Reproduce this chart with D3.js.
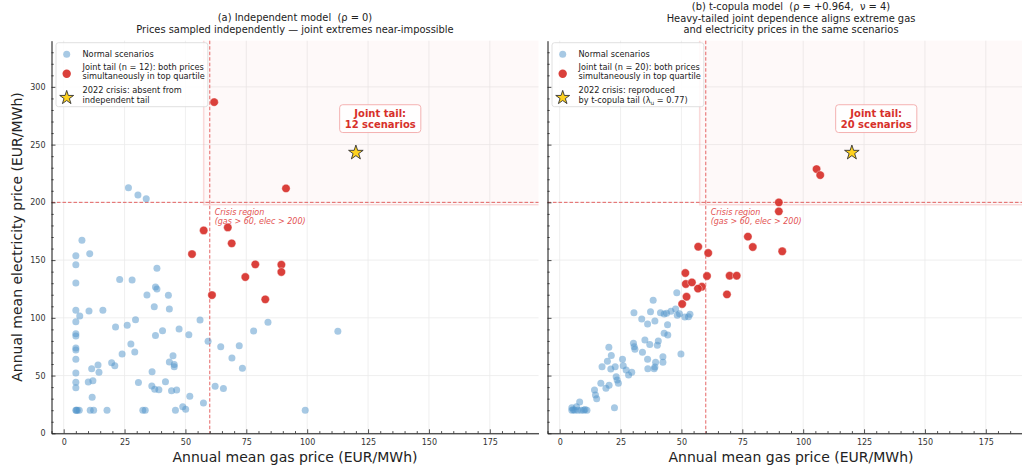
<!DOCTYPE html>
<html>
<head>
<meta charset="utf-8">
<script src="https://cdn.jsdelivr.net/npm/d3@7"></script>
<style>
body { margin: 0; background: #fff; }
svg text { font-family: "DejaVu Sans", sans-serif; }
</style>
</head>
<body>
<div id="chart"></div>
<script>
// Figure geometry
const W = 1022, H = 465;
const plotTop = 40.7, plotBottom = 433.3, plotW = 487;
const panelLeft = [51.5, 547.5];

// Axis settings
const xDomain = [-5, 195], yDomain = [0, 340];
const xTicks = [0, 25, 50, 75, 100, 125, 150, 175];
const yTicks = [0, 50, 100, 150, 200, 250, 300];
const gasThreshold = 60, elecThreshold = 200;
const crisisPoint = [120, 243];

// (a) independent model: [gas, elec]
const indepNormal = [
  [26.6,212.7],[30.5,206.3],[33.9,203.2],[7.5,167.1],[5,153.8],[10.7,155.6],[5,146],[5,130.2],
  [23,133.3],[28.1,132.8],[38.3,142.9],[5,106.5],[6.6,101.6],[10.4,105.9],[16.1,106.5],[5,96.7],
  [5,86.3],[5,84.3],[21.3,92.1],[26.1,93.5],[29.5,98.4],[34.2,119.8],[37.7,126.7],[38.3,125],
  [37.2,109.7],[43,119.5],[43.4,107.6],[37.7,84.6],[40.6,88.9],[47.4,90.3],[51.4,85.4],[56,98.1],
  [27.6,77.3],[29.2,70.4],[59.3,79.7],[5,73.9],[5,72.2],[5,64.1],[24,68.7],[19.7,61.2],
  [21,58.6],[14.1,59.2],[14.5,52.8],[11.5,56],[5,52.2],[5,44.2],[5,39.5],[10.1,44.4],
  [12,45.6],[11.7,31.2],[36.3,53.4],[44.9,67.2],[43.4,61.8],[45.4,59.5],[45.4,57.7],[41.8,44.7],
  [36.2,41],[37.4,38.1],[39.1,37.8],[44.3,36.9],[46.4,37.5],[30.7,43.9],[64.5,75],[69.1,65.2],
  [72.1,75.9],[73.4,56.3],[62.2,40.7],[65.6,38.7],[51.8,32],[57.4,26.3],[48.9,23.1],[50.1,20.8],
  [45.9,20],[32.5,20],[33.5,20],[17.8,20],[12.3,20],[10.9,20],[5,20],[5.6,20],
  [6.4,20],[5.2,20],[112.6,88.3],[99.2,20],[83.9,96.1],[78,88.6]
];
const indepTail = [
  [61.8,286.8],[91.3,212.1],[57.5,175.7],[67.4,178.3],[69,164.5],[52.7,155.2],
  [78.7,146.3],[89.4,146],[89.4,139.7],[74.6,135.3],[60.9,119.7],[82.8,116]
];

// (b) t-copula model: [gas, elec]
const tcopNormal = [
  [48.1,121.7],[38.4,115.2],[30.5,104.5],[37.3,105.3],[41.4,104.5],[42.9,103.3],[43.9,103.9],[45.7,105.6],
  [47.6,107.6],[49.2,103.6],[48.3,102.2],[51.4,100.7],[52.9,101],[53.5,103],[33.7,99],[36.1,94.7],
  [39.1,97.3],[44.3,94.1],[42.9,86.6],[44.4,85.1],[35,80.8],[30.3,77.9],[30.6,75],[30.9,72.7],
  [34,70.1],[37,77],[40.5,80],[40.1,76.2],[49.8,68.7],[42.4,66.4],[42.4,61.5],[36.1,64.1],
  [39.4,61.5],[39.1,57.4],[38.8,56],[36.2,56],[20.2,74.5],[21.2,67.3],[19.6,62.3],[25.8,64.1],
  [17.4,57.7],[21,55.7],[22.8,57.7],[26.1,58.6],[27.3,54.8],[28.3,50.5],[29.6,52.8],[23.2,49],
  [23.6,46.2],[24.1,43.3],[16.9,43.3],[20.3,41.6],[19,39],[14.3,37.5],[14.7,33.2],[15.2,30],
  [8.2,27.1],[5,22.2],[5,20],[6.9,23],[7.5,20],[8.8,20],[9.9,20],[11.2,20],
  [22.5,22.2],[5.6,20.4],[6.2,20],[10.4,20.6]
];
const tcopTail = [
  [105.5,228.8],[107,223.6],[90,200],[90,192.2],[77.3,170.3],[79.3,161.3],[91.4,157.6],
  [56.9,161.6],[61,156.1],[51.6,138.8],[60.5,136.2],[69.8,136.5],[72.7,136.5],[51.8,129.3],
  [54.3,130.7],[58.4,126.9],[56.8,125.3],[68.7,120.3],[52.1,118.3],[50.3,112]
];

// Texts
const titlesA = ["(a) Independent model  (\u03c1 = 0)",
  "Prices sampled independently \u2014 joint extremes near-impossible"];
const titlesB = ["(b) t-copula model  (\u03c1 = +0.964,  \u03bd = 4)",
  "Heavy-tailed joint dependence aligns extreme gas",
  "and electricity prices in the same scenarios"];
const legendA = [
  ["Normal scenarios"],
  ["Joint tail (n = 12): both prices", "simultaneously in top quartile"],
  ["2022 crisis: absent from", "independent tail"]
];
const legendB = [
  ["Normal scenarios"],
  ["Joint tail (n = 20): both prices", "simultaneously in top quartile"],
  ["2022 crisis: reproduced", "by t-copula tail (\u03bb|u| = 0.77)"]
];
const tailLabelA = ["Joint tail:", "12 scenarios"];
const tailLabelB = ["Joint tail:", "20 scenarios"];

const blue = "#4f93c9", red = "#d7302a", dashRed = "#e35353";

const svg = d3.select("#chart").append("svg")
  .attr("width", W).attr("height", H);

function drawPanel(i, normal, tail, titles, legendRows, tailLabel) {
  const h = plotBottom - plotTop;
  const g = svg.append("g")
    .attr("transform", `translate(${panelLeft[i]},${plotTop})`);

  const x = d3.scaleLinear().domain(xDomain).range([0, plotW]);
  const y = d3.scaleLinear().domain(yDomain).range([h, 0]);

  // Grid
  g.selectAll(".gx").data(xTicks).join("line")
    .attr("x1", d => x(d)).attr("x2", d => x(d))
    .attr("y1", 0).attr("y2", h)
    .attr("stroke", "#ebebeb").attr("stroke-width", 0.8);
  g.selectAll(".gy").data(yTicks).join("line")
    .attr("x1", 0).attr("x2", plotW)
    .attr("y1", d => y(d)).attr("y2", d => y(d))
    .attr("stroke", "#ebebeb").attr("stroke-width", 0.8);

  // Crisis region shading (edge only on left and bottom)
  g.append("rect")
    .attr("x", x(57.5)).attr("y", 0)
    .attr("width", plotW - x(57.5)).attr("height", y(198))
    .attr("fill", "#e8474c").attr("fill-opacity", 0.035);
  g.append("path")
    .attr("d", `M${x(57.5)},0V${y(198)}H${plotW}`)
    .attr("fill", "none")
    .attr("stroke", "#f08a8a").attr("stroke-opacity", 0.3).attr("stroke-width", 1.5);

  // Threshold lines
  g.append("line")
    .attr("x1", x(gasThreshold)).attr("x2", x(gasThreshold))
    .attr("y1", 0).attr("y2", h)
    .attr("stroke", dashRed).attr("stroke-width", 0.9).attr("stroke-dasharray", "3.5,2");
  g.append("line")
    .attr("x1", 0).attr("x2", plotW)
    .attr("y1", y(elecThreshold)).attr("y2", y(elecThreshold))
    .attr("stroke", dashRed).attr("stroke-width", 0.9).attr("stroke-dasharray", "3.5,2");

  g.append("text")
    .attr("x", x(62)).attr("y", y(elecThreshold) + 12.5)
    .attr("font-size", 8).attr("font-style", "italic").attr("fill", dashRed)
    .selectAll("tspan").data(["Crisis region", "(gas > 60, elec > 200)"]).join("tspan")
    .attr("x", x(62)).attr("dy", (d, k) => k === 0 ? 0 : 9.5)
    .text(d => d);

  // Points
  g.selectAll(".normal").data(normal).join("circle")
    .attr("cx", d => x(d[0])).attr("cy", d => y(d[1]))
    .attr("r", 3.5).attr("fill", blue).attr("fill-opacity", 0.5);
  g.selectAll(".tail").data(tail).join("circle")
    .attr("cx", d => x(d[0])).attr("cy", d => y(d[1]))
    .attr("r", 4.2).attr("fill", red).attr("fill-opacity", 0.92)
    .attr("stroke", "#fff").attr("stroke-width", 0.4);

  // 2022 crisis star
  g.append("path")
    .attr("d", d3.symbol(d3.symbolStar).size(66)())
    .attr("transform", `translate(${x(crisisPoint[0])},${y(crisisPoint[1])})`)
    .attr("fill", "#ffd21f").attr("stroke", "#333").attr("stroke-width", 0.9);

  // Joint tail label
  const lab = g.append("g")
    .attr("transform", `translate(${x(130)},${y(272)})`);
  const labBox = lab.append("rect");
  const labText = lab.append("text")
    .attr("text-anchor", "middle").attr("font-size", 10)
    .attr("font-weight", "bold").attr("fill", red);
  labText.selectAll("tspan").data(tailLabel).join("tspan")
    .attr("x", 0).attr("y", (d, k) => -2.5 + k * 10.8)
    .text(d => d);
  const bb = labText.node().getBBox();
  labBox.attr("x", bb.x - 5).attr("y", bb.y - 3)
    .attr("width", bb.width + 10).attr("height", bb.height + 6)
    .attr("rx", 3).attr("fill", "#fff").attr("fill-opacity", 0.85)
    .attr("stroke", "#f3a9a9").attr("stroke-width", 0.9);

  // Axes (ticks point inward)
  const xAxis = g.append("g").attr("transform", `translate(0,${h})`)
    .call(d3.axisBottom(x).tickValues(xTicks).tickSize(-4).tickPadding(6).tickSizeOuter(0));
  g.append("g").attr("transform", `translate(0,${h})`)
    .call(d3.axisBottom(x).tickValues(d3.range(-5, 195, 5).filter(v => v % 25 !== 0))
      .tickSize(-2.2).tickFormat("").tickSizeOuter(0))
    .select(".domain").remove();
  const yAxis = g.append("g")
    .call(d3.axisLeft(y).tickValues(yTicks).tickSize(-4).tickPadding(6).tickSizeOuter(0)
      .tickFormat(i === 0 ? d3.format("d") : ""));
  g.append("g")
    .call(d3.axisLeft(y).tickValues(d3.range(10, 340, 10).filter(v => v % 50 !== 0))
      .tickSize(-2.2).tickFormat("").tickSizeOuter(0))
    .select(".domain").remove();
  g.selectAll(".tick line").attr("stroke", "#222").attr("stroke-width", 0.8);
  [xAxis, yAxis].forEach(a => {
    a.select(".domain").attr("stroke", "#111").attr("stroke-width", 1);
    a.selectAll("text").attr("font-size", 8).attr("fill", "#333")
      .attr("font-family", "DejaVu Sans, sans-serif");
  });

  // Title (keep the double spaces)
  const cx = plotW / 2;
  const tBase = titles.length === 2 ? -19.7 : -30.7;
  g.append("text").attr("text-anchor", "middle").attr("font-size", 9.9).attr("fill", "#222")
    .style("white-space", "pre")
    .selectAll("tspan").data(titles).join("tspan")
    .attr("x", cx).attr("y", (d, k) => tBase + k * 11.5)
    .text(d => d);

  // X label
  g.append("text").attr("x", cx).attr("y", h + 28.5)
    .attr("text-anchor", "middle").attr("font-size", 14).attr("fill", "#222")
    .text("Annual mean gas price (EUR/MWh)");

  // Legend
  const leg = g.append("g").attr("transform", "translate(4.5,2)");
  const legBox = leg.append("rect");
  const markerY = [11.6, 31, 55];
  const textY = [[14.6], [27, 36], [50.8, 60.1]];
  legendRows.forEach((rows, k) => {
    if (k === 0) {
      leg.append("circle").attr("cx", 10.7).attr("cy", markerY[k]).attr("r", 3.5)
        .attr("fill", blue).attr("fill-opacity", 0.5);
    } else if (k === 1) {
      leg.append("circle").attr("cx", 10.7).attr("cy", markerY[k]).attr("r", 4.2)
        .attr("fill", red).attr("fill-opacity", 0.92);
    } else {
      leg.append("path").attr("d", d3.symbol(d3.symbolStar).size(60)())
        .attr("transform", `translate(10.7,${markerY[k]})`)
        .attr("fill", "#ffd21f").attr("stroke", "#333").attr("stroke-width", 0.9);
    }
    rows.forEach((r, j) => {
      const t = leg.append("text").attr("x", 26.5).attr("y", textY[k][j])
        .attr("font-size", 8.2).attr("fill", "#222");
      const parts = r.split("|");
      if (parts.length === 1) {
        t.text(r);
      } else {
        t.append("tspan").text(parts[0]);
        t.append("tspan").attr("font-size", 5.8).attr("dy", 2).text(parts[1]);
        t.append("tspan").attr("dy", -2).text(parts[2]);
      }
    });
  });
  const lb = leg.node().getBBox();
  legBox.attr("x", 0).attr("y", 0)
    .attr("width", lb.x + lb.width + 3).attr("height", 64)
    .attr("rx", 2.5).attr("fill", "#fff").attr("fill-opacity", 0.85)
    .attr("stroke", "#d8d8d8").attr("stroke-width", 0.8);
}

drawPanel(0, indepNormal, indepTail, titlesA, legendA, tailLabelA);
drawPanel(1, tcopNormal, tcopTail, titlesB, legendB, tailLabelB);

// Shared y label
svg.append("text")
  .attr("transform", `translate(22,${(plotTop + plotBottom) / 2}) rotate(-90)`)
  .attr("text-anchor", "middle").attr("font-size", 14).attr("fill", "#222")
  .text("Annual mean electricity price (EUR/MWh)");
</script>
</body>
</html>
